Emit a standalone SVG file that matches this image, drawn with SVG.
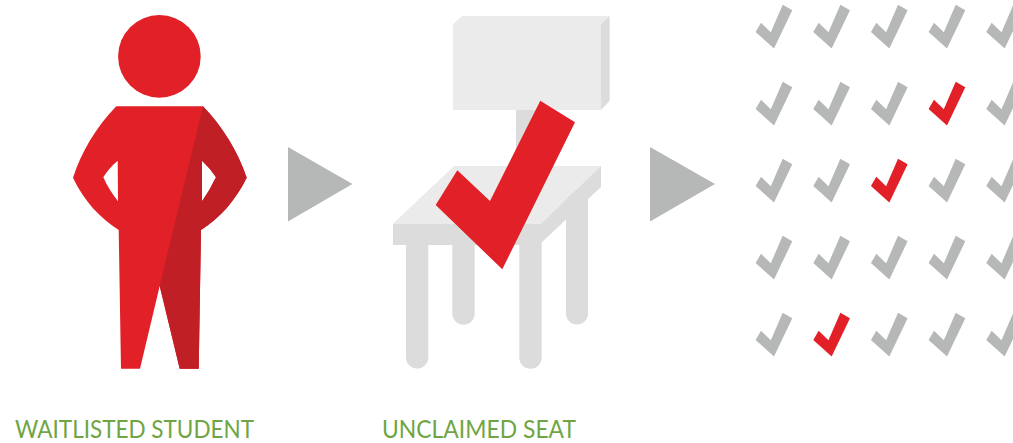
<svg xmlns="http://www.w3.org/2000/svg" xmlns:xlink="http://www.w3.org/1999/xlink" width="1013" height="443" viewBox="0 0 1013 443">
<style>
.red{fill:#e12027}.dark{fill:#bf1f25}.light{fill:#ebebeb}.mid{fill:#dcdcdc}.grey{fill:#b6b8b7}
.lbl{fill:#6fa544;font-family:"Lato","Open Sans",sans-serif;font-size:25px}
</style>
<defs><path id="c" d="M782.700 4.700L792.300 10.200L774 48.500L755.600 32L761 22.800L770.800 32.200Z"/></defs>
<rect width="1013" height="443" fill="#fff"/>
<g id="student">
<circle class="red" cx="159.400" cy="56.400" r="41.300"/>
<path class="red" fill-rule="evenodd" d="M116.300 106.300H203C223 127 238 152 246.700 177.700C235 201 220 218 201 230L198.700 368.700H179.700L159.700 286L140 368.700H121L118.700 230C100 218 84 201 73 177.700C81.500 152 96 127 116.300 106.300ZM117.700 160.700Q109 168 103.300 177.300Q109 190 118 201.300ZM202 160.700V201.300Q210 190 216 177.300Q210 168 202 160.700Z"/>
<path class="dark" fill-rule="evenodd" d="M203 106.300C223 127 238 152 246.700 177.700C235 201 220 218 201 230L198.700 368.700H179.700L159.700 286ZM202 160.700V201.300Q210 190 216 177.300Q210 168 202 160.700Z"/>
</g>
<g id="chair">
<path class="light" d="M453 24.300L462 16H609.700L601 24.300V110H453Z"/>
<path class="mid" d="M601 24.300L609.700 16V100.700L601 110Z"/>
<rect class="mid" x="516" y="110" width="22" height="60"/>
<path class="mid" d="M452.300 240H474.700V313.500A11.200 11.200 0 0 1 452.300 313.500ZM566 190H588V313.500A11 11 0 0 1 566 313.500ZM406 240H428.300V357.500A11.150 11.150 0 0 1 406 357.500ZM519.300 240H541.700V357.500A11.200 11.200 0 0 1 519.300 357.500Z"/>
<path class="light" d="M454 166H601L541 223.700H393Z"/>
<path class="mid" d="M393 223.700H541V245H393Z"/>
<path class="mid" d="M541 223.700L601 166V187L541 243Z"/>
<path class="red" d="M540.300 100.700L575 122.300L502.300 269.300L435.700 205L457.300 170.300L490 201Z"/>
</g>
<g id="connectors">
<path class="grey" d="M288 147L352.500 184L288 221.500Z"/>
<path class="grey" d="M650 147L715 184L650 221.500Z"/>
</g>
<g id="checks">
<use xlink:href="#c" class="grey"/><use xlink:href="#c" class="grey" x="57.670"/><use xlink:href="#c" class="grey" x="115.330"/><use xlink:href="#c" class="grey" x="173"/><use xlink:href="#c" class="grey" x="230.670"/>
<use xlink:href="#c" class="grey" y="77"/><use xlink:href="#c" class="grey" x="57.670" y="77"/><use xlink:href="#c" class="grey" x="115.330" y="77"/><use xlink:href="#c" class="red" x="173" y="77"/><use xlink:href="#c" class="grey" x="230.670" y="77"/>
<use xlink:href="#c" class="grey" y="154"/><use xlink:href="#c" class="grey" x="57.670" y="154"/><use xlink:href="#c" class="red" x="115.330" y="154"/><use xlink:href="#c" class="grey" x="173" y="154"/><use xlink:href="#c" class="grey" x="230.670" y="154"/>
<use xlink:href="#c" class="grey" y="231"/><use xlink:href="#c" class="grey" x="57.670" y="231"/><use xlink:href="#c" class="grey" x="115.330" y="231"/><use xlink:href="#c" class="grey" x="173" y="231"/><use xlink:href="#c" class="grey" x="230.670" y="231"/>
<use xlink:href="#c" class="grey" y="308"/><use xlink:href="#c" class="red" x="57.670" y="308"/><use xlink:href="#c" class="grey" x="115.330" y="308"/><use xlink:href="#c" class="grey" x="173" y="308"/><use xlink:href="#c" class="grey" x="230.670" y="308"/>
</g>
<text class="lbl" x="15" y="437.500" textLength="239" lengthAdjust="spacingAndGlyphs">WAITLISTED STUDENT</text>
<text class="lbl" x="382" y="437.500" textLength="194" lengthAdjust="spacingAndGlyphs">UNCLAIMED SEAT</text>
</svg>
